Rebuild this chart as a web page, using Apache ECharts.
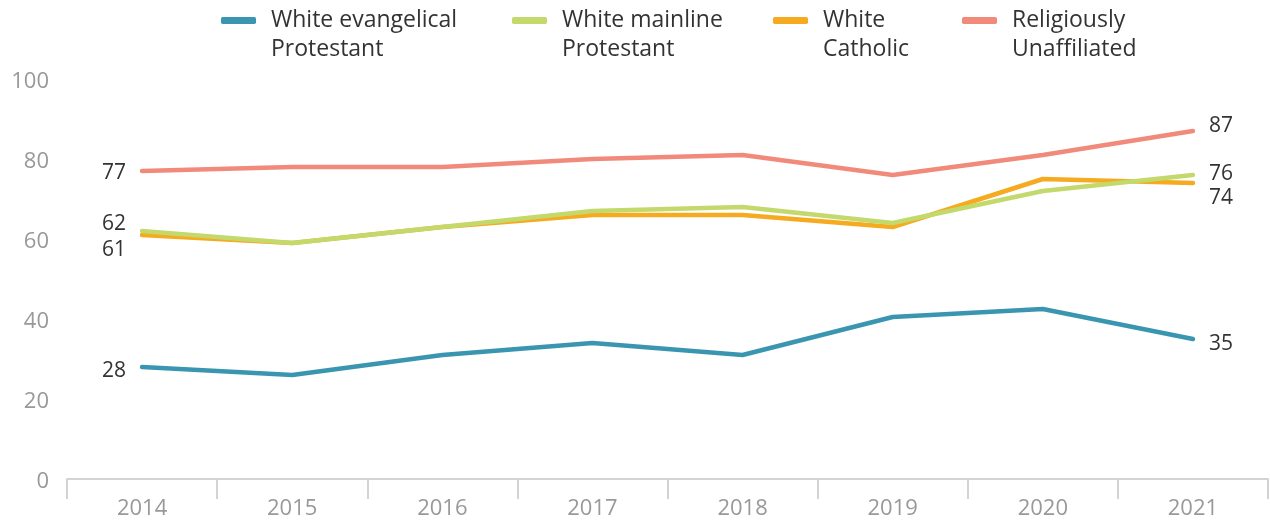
<!DOCTYPE html>
<html><head><meta charset="utf-8">
<script src="https://cdn.jsdelivr.net/npm/echarts@6/dist/echarts.min.js"></script>
<style>html,body{margin:0;padding:0;background:#fff}#c{width:1270px;height:521px}</style>
</head><body><div id="c"></div>
<script>
const years = ['2014','2015','2016','2017','2018','2019','2020','2021'];
const evangelical = [28, 26, 31, 34, 31, 40.5, 42.5, 35];
const mainline = [62, 59, 63, 67, 68, 64, 72, 76];
const catholic = [61, 59, 63, 66, 66, 63, 75, 74];
const unaffiliated = [77, 78, 78, 80, 81, 76, 81, 87];
const names = ['White evangelical\nProtestant', 'White mainline\nProtestant', 'White\nCatholic', 'Religiously\nUnaffiliated'];
const colors = ['#3a96b0', '#c4d96b', '#f5aa1f', '#f28a7b'];
const legendLefts = [221, 512, 773, 962];

const FONT = '"Open Sans", "Noto Sans", sans-serif';
function mk(values, leftOff, rightOff) {
  return values.map((v, i) => {
    if (i === 0) return {value: v, label: {show: true, position: 'left', distance: 16, offset: [0, leftOff]}};
    if (i === values.length - 1) return {value: v, label: {show: true, position: 'right', distance: 16, offset: [0, rightOff]}};
    return v;
  });
}
const seriesCfg = [
  {vals: evangelical, lo: 4, ro: 5, z: 2},
  {vals: mainline, lo: -7, ro: -1, z: 4},
  {vals: catholic, lo: 15, ro: 15, z: 3},
  {vals: unaffiliated, lo: 2, ro: -5, z: 2}
];
const chart = echarts.init(document.getElementById('c'));
chart.setOption({
  animation: false,
  textStyle: {fontFamily: FONT},
  legend: names.map((n, k) => ({
    top: -23, left: legendLefts[k], padding: 0,
    itemWidth: 35, itemHeight: 7,
    icon: 'roundRect',
    selectedMode: false,
    formatter: (name) => '\n' + name,
    textStyle: {fontSize: 23, color: '#333', lineHeight: 29, padding: [0, 0, 0, 10], fontFamily: FONT},
    data: [n]
  })),
  grid: {left: 67, right: 2, top: 79, bottom: 42},
  xAxis: {
    type: 'category', data: years, boundaryGap: true,
    axisLine: {show: true, lineStyle: {color: '#d3d3d3', width: 2}},
    axisTick: {show: true, length: 20, alignWithLabel: false, lineStyle: {color: '#d3d3d3', width: 2}},
    axisLabel: {color: '#999', fontSize: 22, margin: 19, fontFamily: FONT},
    splitLine: {show: false}
  },
  yAxis: {
    type: 'value', min: 0, max: 100, interval: 20,
    splitLine: {show: false},
    axisLine: {show: false}, axisTick: {show: false},
    axisLabel: {
      color: '#999', fontSize: 22, margin: 18, fontFamily: FONT,
      formatter: '{a|{value}}',
      rich: {a: {color: '#999', fontSize: 22, fontFamily: FONT, padding: [6, 0, 0, 0]}}
    }
  },
  series: seriesCfg.map((s, k) => ({
    name: names[k], type: 'line', data: mk(s.vals, s.lo, s.ro),
    z: s.z,
    symbol: 'circle', symbolSize: 0, showSymbol: true,
    lineStyle: {color: colors[k], width: 4.5, cap: 'round', join: 'round'},
    itemStyle: {color: colors[k]},
    label: {show: false, color: '#333', fontSize: 21, fontFamily: FONT},
    emphasis: {disabled: true}
  }))
});
</script></body></html>
